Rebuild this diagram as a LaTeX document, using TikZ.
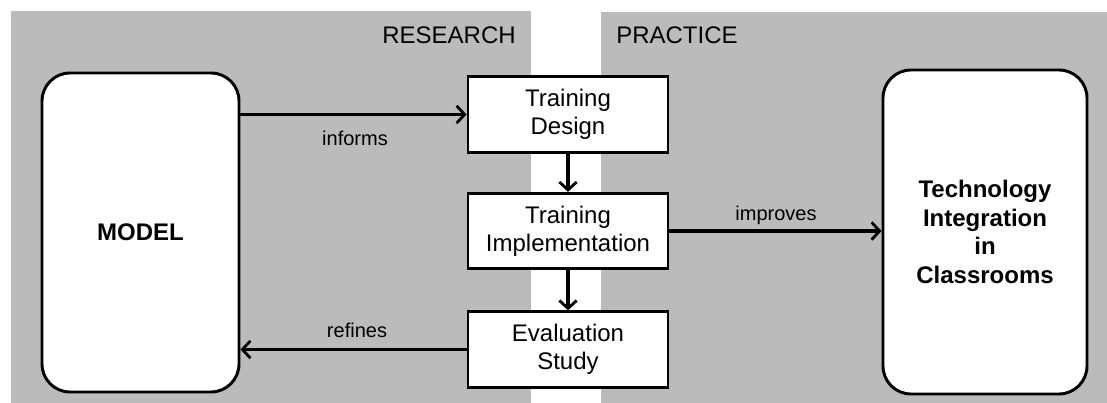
\documentclass[tikz,border=0pt]{standalone}
\usepackage{fontspec}
\setmainfont{Liberation Sans}
\usetikzlibrary{arrows.meta}

\definecolor{panelgray}{RGB}{187,187,187}

\tikzset{
	stepbox/.style={draw=black, line width=2.2pt, fill=white, minimum width=150pt, minimum height=56.5pt, align=center, inner sep=0pt, font=\fontsize{18}{21}\selectfont},
	bigbox/.style={draw=black, line width=2.2pt, fill=white, rounded corners=21pt, align=center, inner sep=0pt, font=\fontsize{18}{21.5}\selectfont\bfseries},
	flow/.style={line width=2.3pt, -{Straight Barb[length=6pt, width=13pt, line width=2.1pt]}},
	lbl/.style={inner sep=0pt, font=\fontsize{15}{18}\selectfont},
	area/.style={inner sep=0pt, font=\fontsize{18}{20}\selectfont}
}

\begin{document}
\begin{tikzpicture}[x=0.75pt, y=0.75pt]
		%%%%% START %%%%%
		\useasboundingbox (0, 0) rectangle (1107, 403);
		
		\fill[panelgray] (11, 0) rectangle (531, 392);
		\fill[panelgray] (601, 0) rectangle (1107, 391);
		
		\node[area, anchor=east] (research) at (516, 368) {RESEARCH};
		\node[area, anchor=west] (practice) at (616, 368) {PRACTICE};
		
		\node[bigbox, minimum width=147.75pt, minimum height=239.25pt] (model) at (140.5, 170.5) {MODEL};
		\node[bigbox, minimum width=153pt, minimum height=243pt] (tech) at (985, 171) {Technology\\Integration\\in\\Classrooms};
		
		\node[stepbox] (design) at (568, 288.5) {Training\\Design};
		\node[stepbox] (impl) at (568, 172) {Training\\Implementation};
		\node[stepbox] (eval) at (568, 53.5) {Evaluation\\Study};
		
		\draw[flow] (model.east |- design.west) -- (design.west);
		\draw[flow] (design) -- (impl);
		\draw[flow] (impl) -- (eval);
		\draw[flow] (impl.east) -- (tech.west |- impl.east);
		\draw[flow] (eval.west) -- (model.east |- eval.west);
		
		\node[lbl] (informs) at (355, 265) {informs};
		\node[lbl] (improves) at (776, 188) {improves};
		\node[lbl] (refines) at (357, 73) {refines};
		
		%%%%% END %%%%%
\end{tikzpicture}
\end{document}
